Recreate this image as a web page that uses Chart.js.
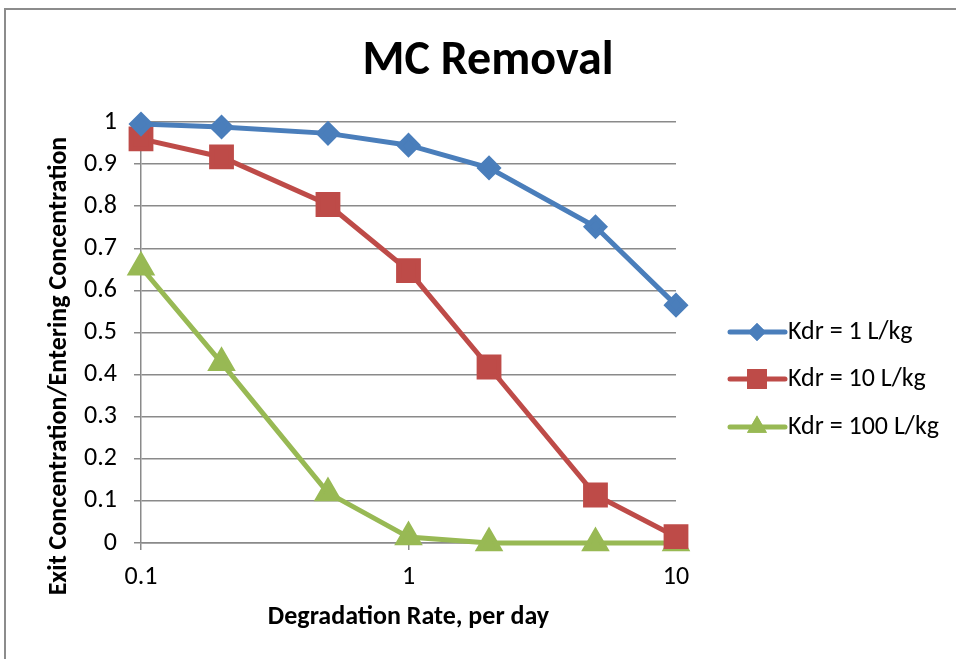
<!DOCTYPE html>
<html>
<head>
<meta charset="utf-8">
<script src="https://cdn.jsdelivr.net/npm/chart.js@4"></script>
<style>
  html, body { margin: 0; padding: 0; background: #fff; }
  #wrap { width: 956px; height: 659px; position: relative; }
</style>
</head>
<body>
<div id="wrap"><canvas id="chart-mc"></canvas></div>
<script>
/* MC Removal — exit/entering concentration vs degradation rate */
const FONT = 'Carlito, Calibri, Lato, sans-serif';

const rates = [0.1, 0.2, 0.5, 1, 2, 5, 10];
const kdr1 = [0.995, 0.988, 0.973, 0.945, 0.891, 0.751, 0.565];
const kdr10 = [0.960, 0.917, 0.804, 0.647, 0.418, 0.114, 0.015];
const kdr100 = [0.655, 0.428, 0.119, 0.014, 0, 0, 0];
const seriesLabels = ['Kdr = 1 L/kg', 'Kdr = 10 L/kg', 'Kdr = 100 L/kg'];
const xTickValues = [0.1, 1, 10];

const BLUE = '#4a7ebb';
const RED = '#be4b48';
const GREEN = '#98b954';
const GRID = '#8a8a8a';

function pts(ys) {
  return rates.map((x, i) => ({x, y: ys[i]}));
}

/* ── title, rotated y title, legend and frame drawn by hand ── */
const decor = {
  id: 'decor',
  afterDraw(chart) {
    const ctx = chart.ctx;
    ctx.save();
    // outer frame
    ctx.strokeStyle = '#8c8c8c';
    ctx.lineWidth = 2;
    ctx.strokeRect(5, 9, 1000, 700);

    // chart title
    ctx.fillStyle = '#000';
    ctx.font = `bold 48px ${FONT}`;
    ctx.textAlign = 'center';
    ctx.textBaseline = 'middle';
    ctx.fillText('MC Removal', 488, 62);

    // y axis title
    ctx.save();
    ctx.translate(59, 366);
    ctx.rotate(-Math.PI / 2);
    ctx.font = `bold 26px ${FONT}`;
    ctx.fillText('Exit Concentration/Entering Concentration', 0, 0);
    ctx.restore();

    // legend
    const rows = [332, 379, 427];
    chart.data.datasets.forEach((ds, i) => {
      const y = rows[i];
      ctx.strokeStyle = ds.borderColor;
      ctx.lineWidth = 5;
      ctx.lineCap = 'round';
      ctx.beginPath();
      ctx.moveTo(730, y);
      ctx.lineTo(785, y);
      ctx.stroke();
      ctx.fillStyle = ds.borderColor;
      Chart.helpers.drawPoint(ctx, {pointStyle: ds.pointStyle, radius: ds.pointRadius, rotation: 0, borderWidth: 0}, 757, y);
      ctx.fill();
      ctx.fillStyle = '#000';
      ctx.font = `26px ${FONT}`;
      ctx.textAlign = 'left';
      ctx.fillText(ds.label, 788, y);
    });
    ctx.restore();
  },
};

const ctx = document.getElementById('chart-mc').getContext('2d');
new Chart(ctx, {
  type: 'line',
  data: {
    datasets: [
      {label: seriesLabels[0], data: pts(kdr1), borderColor: BLUE, backgroundColor: BLUE,
       pointStyle: 'rectRot', pointRadius: 9, borderWidth: 5, clip: false},
      {label: seriesLabels[1], data: pts(kdr10), borderColor: RED, backgroundColor: RED,
       pointStyle: 'rect', pointRadius: 14, borderWidth: 5, clip: false},
      {label: seriesLabels[2], data: pts(kdr100), borderColor: GREEN, backgroundColor: GREEN,
       pointStyle: 'triangle', pointRadius: 11.5, borderWidth: 5, clip: false},
    ],
  },
  options: {
    responsive: true,
    maintainAspectRatio: false,
    animation: false,
    layout: {padding: {left: 0, right: 280, top: 122, bottom: 0}},
    elements: {point: {borderWidth: 0, hoverRadius: 10}},
    plugins: {legend: {display: false}, title: {display: false}, tooltip: {enabled: false}},
    scales: {
      x: {
        type: 'logarithmic',
        min: 0.1,
        max: 10,
        afterBuildTicks: (s) => { s.ticks = xTickValues.map(v => ({value: v})); },
        afterFit: (s) => { s.height = 116; },
        ticks: {
          color: '#000', padding: 12, maxRotation: 0, autoSkip: false,
          font: {family: FONT, size: 26},
          callback: (v) => String(v),
        },
        grid: {drawOnChartArea: false, drawTicks: true, tickLength: 7, color: GRID, lineWidth: 1.5},
        border: {display: true, color: GRID, width: 1.5},
        title: {
          display: true, text: 'Degradation Rate, per day', color: '#000',
          font: {family: FONT, size: 26, weight: 'bold'},
          padding: {top: 0, bottom: 26},
        },
      },
      y: {
        min: 0,
        max: 1,
        afterFit: (s) => { s.width = 141; },
        ticks: {
          stepSize: 0.1, color: '#000', padding: 17,
          font: {family: FONT, size: 26},
          callback: (v) => String(Math.round(v * 10) / 10),
        },
        grid: {color: GRID, lineWidth: 1.5, tickLength: 7},
        border: {display: true, color: GRID, width: 1.5},
      },
    },
  },
  plugins: [decor],
});
</script>
</body>
</html>
